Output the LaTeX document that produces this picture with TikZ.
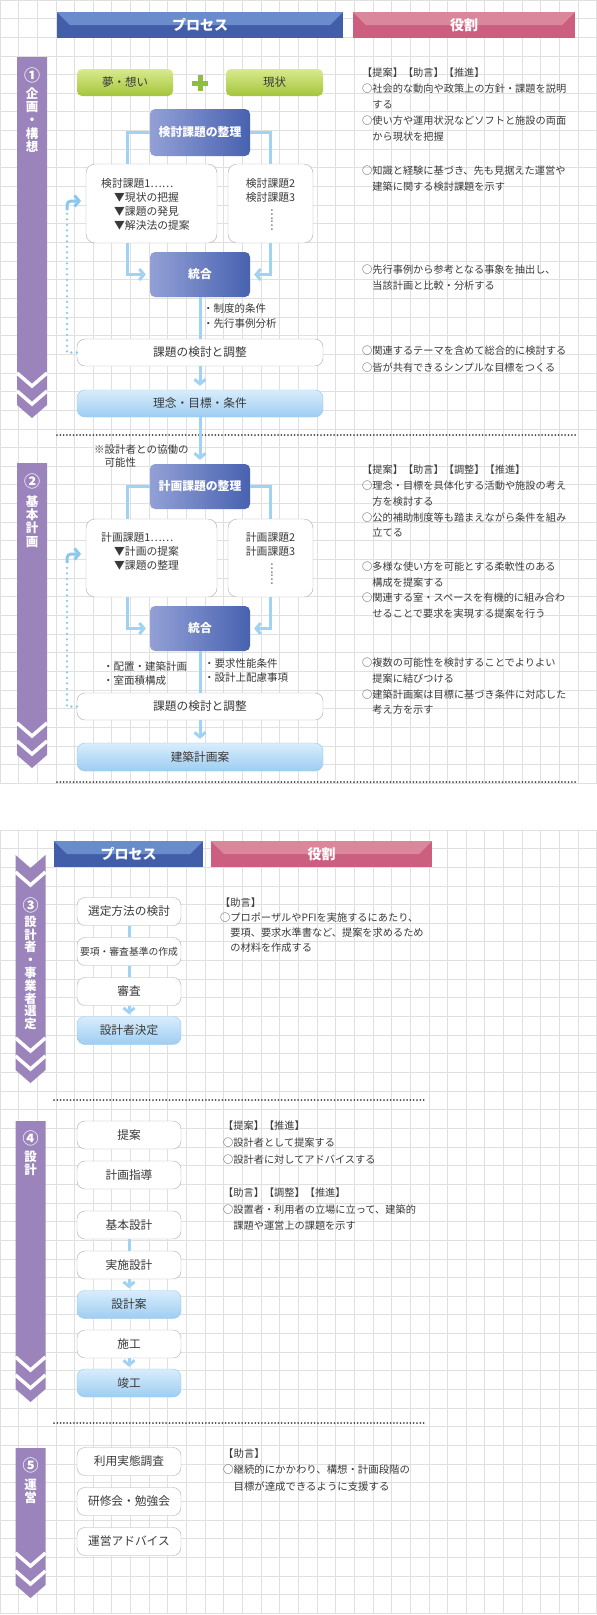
\documentclass[tikz,border=0pt]{standalone}
\usepackage{fontspec}
\setmainfont{Noto Sans CJK JP}
\usetikzlibrary{arrows.meta,calc}
\definecolor{gridgray}{RGB}{224,224,224}
\definecolor{procdark}{RGB}{66,94,168}
\definecolor{proclight}{RGB}{106,140,204}
\definecolor{roledark}{RGB}{204,94,128}
\definecolor{rolelight}{RGB}{218,135,156}
\definecolor{stagepurple}{RGB}{155,132,188}
\definecolor{blueL}{RGB}{146,160,214}
\definecolor{blueD}{RGB}{72,98,176}
\definecolor{greentop}{RGB}{216,234,142}
\definecolor{greenbot}{RGB}{164,197,58}
\definecolor{plusgreen}{RGB}{141,190,61}
\definecolor{lbtop}{RGB}{216,237,252}
\definecolor{lbbot}{RGB}{158,205,242}
\definecolor{lbborder}{RGB}{150,200,238}
\definecolor{connblue}{RGB}{160,210,243}
\definecolor{fbblue}{RGB}{140,200,238}
\definecolor{txtgray}{RGB}{58,58,58}
\definecolor{sepgray}{RGB}{72,72,72}
\definecolor{boxgray}{RGB}{172,172,172}

% purple stage arrow: centre x, top y, tip y, top notch depth
\newcommand{\stagebar}[4]{%
  \fill[stagepurple] (#1-15,#2) -- (#1,#2+#4) -- (#1+15,#2) -- (#1+15,#3-13) -- (#1,#3) -- (#1-15,#3-13) -- cycle;
  \draw[chevcut] (#1-15,#3-45) -- (#1,#3-32) -- (#1+15,#3-45);
  \draw[chevcut] (#1-15,#3-27) -- (#1,#3-14) -- (#1+15,#3-27);}

\begin{document}
\begin{tikzpicture}[
  x=1pt, y=-1pt,
  >={Straight Barb[length=4.5pt,width=11pt]},
  gridline/.style={draw=gridgray, line width=0.9pt},
  headbox/.style={minimum height=26pt, inner sep=0pt, text=white, font=\fontsize{14}{16}\selectfont\bfseries, fill=#1dark,
    path picture={\fill[#1light] (path picture bounding box.north west) -- (path picture bounding box.north east) -- ++(-13,13) -- ($(path picture bounding box.north west)+(13,13)$) -- cycle;}},
  chevcut/.style={draw=white, line width=3.5pt},
  stagenum/.style={inner sep=0pt, text=white, font=\fontsize{16}{16}\selectfont\bfseries},
  stagetext/.style={anchor=north, inner sep=0pt, align=center, text=white, font=\fontsize{12.5}{13.2}\selectfont\bfseries},
  flowbox/.style={draw=boxgray, fill=white, rounded corners=8pt, minimum width=104pt, minimum height=28pt, inner sep=0pt, text=txtgray, font=\fontsize{11.7}{13}\selectfont},
  widebox/.style={flowbox, minimum width=246pt, minimum height=27pt},
  lightbox/.style={draw=lbborder, top color=lbtop, bottom color=lbbot},
  bluebox/.style={rounded corners=5pt, left color=blueL, right color=blueD, minimum width=100pt, minimum height=45pt, inner sep=0pt, text=white, font=\fontsize{11.8}{13}\selectfont\bfseries},
  greenbox/.style={rounded corners=5pt, top color=greentop, bottom color=greenbot, minimum width=96pt, minimum height=27pt, inner sep=0pt, text=txtgray, font=\fontsize{11.5}{13}\selectfont},
  issuebox/.style={draw=boxgray, fill=white, rounded corners=9pt, minimum height=79pt, inner sep=0pt},
  issuetext/.style={inner sep=0pt, align=left, text=txtgray, font=\fontsize{10.8}{14}\selectfont},
  vdots/.style={rotate=90, inner sep=0pt, text=txtgray, font=\fontsize{10.8}{12}\selectfont},
  note/.style={anchor=north west, inner sep=0pt, align=left, text=txtgray, font=\fontsize{10.5}{14.5}\selectfont},
  role/.style={anchor=north west, inner sep=0pt, align=left, text=txtgray, font=\fontsize{10.2}{16}\selectfont},
  conn/.style={draw=connblue, line width=3pt},
  connarr/.style={conn, ->, shorten >=4pt},
  fbdots/.style={draw=fbblue, line width=2.6pt, line cap=round, dash pattern=on 0pt off 5.5pt},
  fbhook/.style={draw=fbblue, line width=3pt, ->, rounded corners=4pt},
  sepline/.style={draw=sepgray, line width=2pt, line cap=round, dash pattern=on 0pt off 3.3pt},
  plusmark/.style={draw=plusgreen, line width=5pt},
]
\fill[white] (0,0) rectangle (597,1615);
\useasboundingbox (0,0) rectangle (597,1615);

% grid panels
\foreach \gy in {0,830} {
  \foreach \i in {0,...,32} \draw[gridline] (\i*18.65,\gy) -- (\i*18.65,\gy+42*18.65);
  \foreach \j in {0,...,42} \draw[gridline] (0,\gy+\j*18.65) -- (597,\gy+\j*18.65);
}

% headers
\node[headbox=proc, minimum width=286pt] (proc1) at (200,25) {プロセス};
\node[headbox=role, minimum width=222pt] (role1) at (464,25) {役割};
\node[headbox=proc, minimum width=149pt] (proc2) at (128.5,854) {プロセス};
\node[headbox=role, minimum width=221pt] (role2) at (321.5,854) {役割};

% stage arrows
\stagebar{32}{57}{418}{0}
\stagebar{32}{463}{768}{0}
\stagebar{30.5}{855}{1083}{13}
\draw[chevcut] (15.5,872) -- (30.5,885) -- (45.5,872);
\stagebar{30.5}{1121}{1402}{0}
\stagebar{30.5}{1448}{1598}{0}
\node[stagenum] (st1) at (32,75) {①};
\node[stagetext] (st1t) at (32,87.5) {企\\画\\・\\構\\想};
\node[stagenum] (st2) at (32,481) {②};
\node[stagetext, font=\fontsize{12.5}{13.3}\selectfont\bfseries] (st2t) at (32,495.5) {基\\本\\計\\画};
\node[stagenum] (st3) at (30.5,905) {③};
\node[stagetext, font=\fontsize{12.3}{12.8}\selectfont\bfseries] (st3t) at (30.5,916) {設\\計\\者\\・\\事\\業\\者\\選\\定};
\node[stagenum] (st4) at (30.5,1138) {④};
\node[stagetext] (st4t) at (30.5,1150.5) {設\\計};
\node[stagenum] (st5) at (30.5,1465) {⑤};
\node[stagetext] (st5t) at (30.5,1478.5) {運\\営};

% separators
\draw[sepline] (57,435) -- (577,435);
\draw[sepline] (57,782) -- (577,782);
\draw[sepline] (54,1100) -- (426,1100);
\draw[sepline] (54,1423) -- (426,1423);

% stage 1 flow
\node[greenbox] (yume) at (125,82.5) {夢・想い};
\node[greenbox, minimum width=97pt] (genjo) at (274.5,82.5) {現状};
\draw[plusmark] (192,83) -- (208,83) (200,75) -- (200,91);
\node[bluebox, minimum height=47pt] (kseiri) at (200,132.5) {検討課題の整理};
\node[issuebox, minimum width=131pt] (kleft) at (151.5,203.5) {};
\node[issuebox, minimum width=85pt] (kright) at (270.5,203.5) {};
\node[issuetext, anchor=west] (kltext) at (101,204) {検討課題1……\\\hspace*{1.2em}▼現状の把握\\\hspace*{1.2em}▼課題の発見\\\hspace*{1.2em}▼解決法の提案};
\node[issuetext, align=center] (krtext) at (270.5,190) {検討課題2\\検討課題3};
\node[vdots] (krdots) at (272,220) {……};
\node[bluebox] (ktogo) at (200,274.5) {統合};
\node[flowbox, widebox] (kchosei) at (200,352.5) {課題の検討と調整};
\node[flowbox, widebox, lightbox] (rinen) at (200,403.5) {理念・目標・条件};
\node[note] (kcond) at (203,303.5) {・制度的条件\\・先行事例分析};
\draw[conn] (kseiri.west) -| ($(kleft.north west)!0.32!(kleft.north east)$);
\draw[conn] (kseiri.east) -| (kright.north);
\draw[connarr] ($(kleft.south west)!0.32!(kleft.south east)$) |- (ktogo.west);
\draw[connarr] (kright.south) |- (ktogo.east);
\draw[conn] (ktogo.south) -- (kchosei.north);
\draw[connarr] (kchosei.south) -- (rinen.north);
\coordinate (kfb) at (67,210);
\coordinate (kfbtip) at (81,201);
\draw[fbdots] (kchosei.west) -| (kfb);
\draw[fbhook] (kfb) |- (kfbtip);

% stage 2 flow
\node[note, font=\fontsize{10.5}{12.5}\selectfont] (pnote) at (94,444.5) {※設計者との協働の\\\hspace*{1em}可能性};
\node[bluebox] (pseiri) at (200,486.5) {計画課題の整理};
\node[issuebox, minimum width=131pt, minimum height=78pt] (pleft) at (151.5,558) {};
\node[issuebox, minimum width=85pt, minimum height=78pt] (pright) at (270.5,558) {};
\node[issuetext, anchor=west] (pltext) at (101,551) {計画課題1……\\\hspace*{1.2em}▼計画の提案\\\hspace*{1.2em}▼課題の整理};
\node[issuetext, align=center] (prtext) at (270.5,544) {計画課題2\\計画課題3};
\node[vdots] (prdots) at (272,574) {……};
\node[bluebox] (ptogo) at (200,628.5) {統合};
\node[flowbox, widebox] (pchosei) at (200,706.5) {課題の検討と調整};
\node[flowbox, widebox, lightbox, minimum height=28pt] (kenan) at (200,757) {建築計画案};
\node[note, font=\fontsize{10.5}{13.7}\selectfont] (pcondl) at (103,661.5) {・配置・建築計画\\・室面積構成};
\node[note, font=\fontsize{10.5}{14}\selectfont] (pcondr) at (204,658.5) {・要求性能条件\\・設計上配慮事項};
\draw[connarr] (rinen.south) -- (pseiri.north);
\draw[conn] (pseiri.west) -| ($(pleft.north west)!0.32!(pleft.north east)$);
\draw[conn] (pseiri.east) -| (pright.north);
\draw[connarr] ($(pleft.south west)!0.32!(pleft.south east)$) |- (ptogo.west);
\draw[connarr] (pright.south) |- (ptogo.east);
\draw[conn] (ptogo.south) -- (pchosei.north);
\draw[connarr] (pchosei.south) -- (kenan.north);
\coordinate (pfb) at (67,563);
\coordinate (pfbtip) at (81,554);
\draw[fbdots] (pchosei.west) -| (pfb);
\draw[fbhook] (pfb) |- (pfbtip);

% stage 3 flow
\node[flowbox] (sel1) at (129,911.5) {選定方法の検討};
\node[flowbox, font=\fontsize{9.8}{12}\selectfont] (sel2) at (129,951.5) {要項・審査基準の作成};
\node[flowbox] (sel3) at (129,991.5) {審査};
\node[flowbox, lightbox] (sel4) at (129,1030.5) {設計者決定};
\draw[conn] (sel1.south) -- (sel2.north);
\draw[conn] (sel2.south) -- (sel3.north);
\draw[connarr, shorten >=2pt] (sel3.south) -- (sel4.north);

% stage 4 flow
\node[flowbox] (des1) at (129,1135) {提案};
\node[flowbox] (des2) at (129,1175) {計画指導};
\node[flowbox] (des3) at (129,1225) {基本設計};
\node[flowbox] (des4) at (129,1265) {実施設計};
\node[flowbox, lightbox] (des5) at (129,1304.5) {設計案};
\node[flowbox] (des6) at (129,1344) {施工};
\node[flowbox, lightbox] (des7) at (129,1383) {竣工};
\draw[conn] (des3.south) -- (des4.north);
\draw[connarr, shorten >=2pt] (des4.south) -- (des5.north);
\draw[connarr, shorten >=2pt] (des6.south) -- (des7.north);

% stage 5 flow
\node[flowbox] (ops1) at (129,1461.5) {利用実態調査};
\node[flowbox] (ops2) at (129,1501.5) {研修会・勉強会};
\node[flowbox] (ops3) at (129,1541.5) {運営アドバイス};

% roles
\node[role] (r1a) at (362,68) {【提案】【助言】【推進】\\○社会的な動向や政策上の方針・課題を説明\\\hspace*{1em}する\\○使い方や運用状況などソフトと施設の両面\\\hspace*{1em}から現状を把握};
\node[role] (r1b) at (362,166) {○知識と経験に基づき、先も見据えた運営や\\\hspace*{1em}建築に関する検討課題を示す};
\node[role] (r1c) at (362,265) {○先行事例から参考となる事象を抽出し、\\\hspace*{1em}当該計画と比較・分析する};
\node[role, font=\fontsize{10.2}{17}\selectfont] (r1d) at (362,346) {○関連するテーマを含めて総合的に検討する\\○皆が共有できるシンプルな目標をつくる};
\node[role, font=\fontsize{10.2}{15.75}\selectfont] (r2a) at (362,465) {【提案】【助言】【調整】【推進】\\○理念・目標を具体化する活動や施設の考え\\\hspace*{1em}方を検討する\\○公的補助制度等も踏まえながら条件を組み\\\hspace*{1em}立てる};
\node[role, font=\fontsize{10.2}{15.4}\selectfont] (r2b) at (362,562) {○多様な使い方を可能とする柔軟性のある\\\hspace*{1em}構成を提案する\\○関連する室・スペースを有機的に組み合わ\\\hspace*{1em}せることで要求を実現する提案を行う};
\node[role, font=\fontsize{10.2}{15.7}\selectfont] (r2c) at (362,658) {○複数の可能性を検討することでよりよい\\\hspace*{1em}提案に結びつける\\○建築計画案は目標に基づき条件に対応した\\\hspace*{1em}考え方を示す};
\node[role, font=\fontsize{10.2}{15}\selectfont] (r3) at (220,898) {【助言】\\○プロポーザルやPFIを実施するにあたり、\\\hspace*{1em}要項、要求水準書など、提案を求めるため\\\hspace*{1em}の材料を作成する};
\node[role, font=\fontsize{10.2}{17}\selectfont] (r4a) at (223,1121) {【提案】【推進】\\○設計者として提案する\\○設計者に対してアドバイスする};
\node[role, font=\fontsize{10.2}{16.5}\selectfont] (r4b) at (223,1188) {【助言】【調整】【推進】\\○設置者・利用者の立場に立って、建築的\\\hspace*{1em}課題や運営上の課題を示す};
\node[role, font=\fontsize{10.4}{16.5}\selectfont] (r5) at (223,1448) {【助言】\\○継続的にかかわり、構想・計画段階の\\\hspace*{1em}目標が達成できるように支援する};
\end{tikzpicture}
\end{document}
